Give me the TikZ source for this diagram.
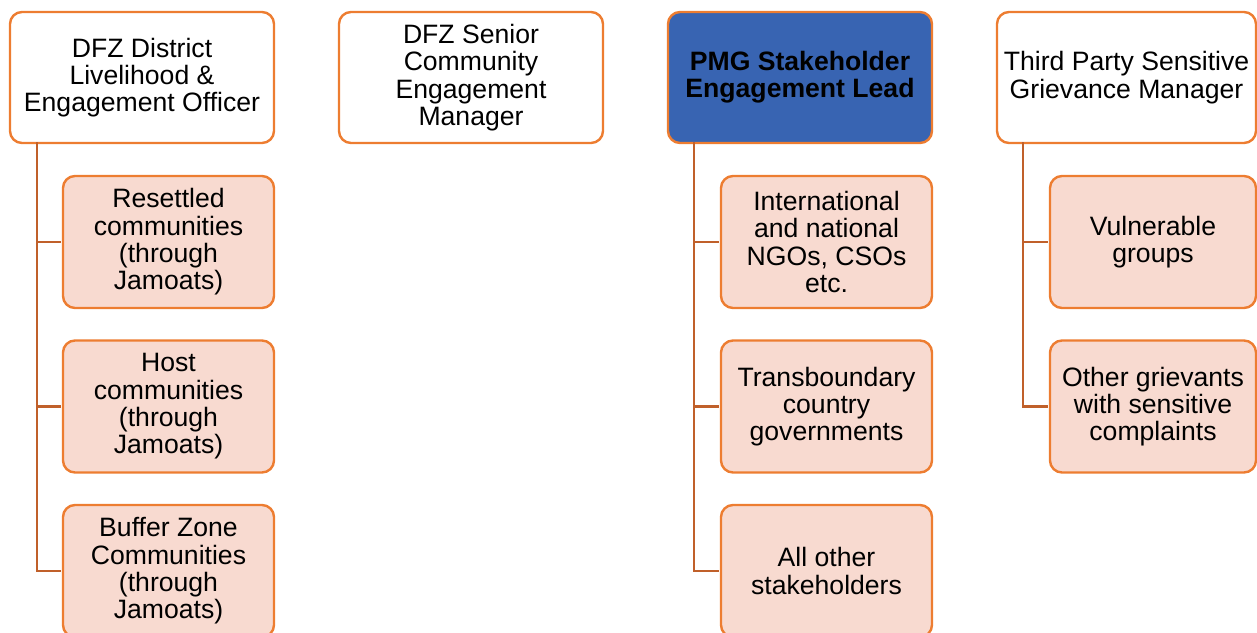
\documentclass[tikz,border=0pt]{standalone}
\usepackage{fontspec}
\setmainfont{Liberation Sans}
\definecolor{boxline}{HTML}{ED7D31}
\definecolor{conn}{HTML}{C0602A}
\definecolor{kidfill}{HTML}{F8DAD0}
\definecolor{leadfill}{HTML}{3864B2}
\begin{document}
\begin{tikzpicture}[x=1pt,y=-1pt,
  topbox/.style={draw=boxline,line width=2.4pt,rounded corners=12pt,fill=white,
    minimum width=264pt,minimum height=131pt,inner sep=0pt,align=center,
    font=\fontsize{26.6}{27.3}\selectfont},
  kidbox/.style={draw=boxline,line width=2.4pt,rounded corners=12pt,fill=kidfill,
    minimum width=211pt,minimum height=132pt,inner sep=0pt,align=center,
    font=\fontsize{26.6}{27.3}\selectfont},
  link/.style={draw=conn,line width=2.6pt}]
\useasboundingbox (0,0) rectangle (1257,632);

% connectors (drawn first, boxes on top)
\coordinate (ja) at (37,143);
\coordinate (jc) at (694,143);
\coordinate (jd) at (1023,143);

% top row
\node[topbox] (t1) at (142,77.5) {DFZ District\\Livelihood \&\\Engagement Officer};
\node[topbox] (t2) at (471,77.5) {DFZ Senior\\Community\\Engagement\\Manager};
\node[topbox,fill=leadfill,font=\fontsize{26.6}{27.3}\selectfont\bfseries] (t3) at (800,77.5) {PMG Stakeholder\\Engagement Lead};
\node[topbox,minimum width=259pt] (t4) at (1126.5,77.5) {Third Party Sensitive\\Grievance Manager};

% column 1 children
\node[kidbox] (a1) at (168.5,242) {Resettled\\communities\\(through\\Jamoats)};
\node[kidbox] (a2) at (168.5,406.5) {Host\\communities\\(through\\Jamoats)};
\node[kidbox] (a3) at (168.5,571) {Buffer Zone\\Communities\\(through\\Jamoats)};

% column 3 children
\node[kidbox] (c1) at (826.5,242) {International\\and national\\NGOs, CSOs\\etc.};
\node[kidbox] (c2) at (826.5,406.5) {Transboundary\\country\\governments};
\node[kidbox] (c3) at (826.5,571) {All other\\stakeholders};

% column 4 children
\node[kidbox,minimum width=206pt] (d1) at (1153,242) {Vulnerable\\groups};
\node[kidbox,minimum width=206pt] (d2) at (1153,406.5) {Other grievants\\with sensitive\\complaints};

\draw[link] ([yshift=1pt]ja) |- ([xshift=-1pt]a3.west);
\draw[link] (ja |- a1.west) -- ([xshift=-1pt]a1.west);
\draw[link] (ja |- a2.west) -- ([xshift=-1pt]a2.west);
\draw[link] ([yshift=1pt]jc) |- ([xshift=-1pt]c3.west);
\draw[link] (jc |- c1.west) -- ([xshift=-1pt]c1.west);
\draw[link] (jc |- c2.west) -- ([xshift=-1pt]c2.west);
\draw[link] ([yshift=1pt]jd) |- ([xshift=-1pt]d2.west);
\draw[link] (jd |- d1.west) -- ([xshift=-1pt]d1.west);
\end{tikzpicture}
\end{document}
